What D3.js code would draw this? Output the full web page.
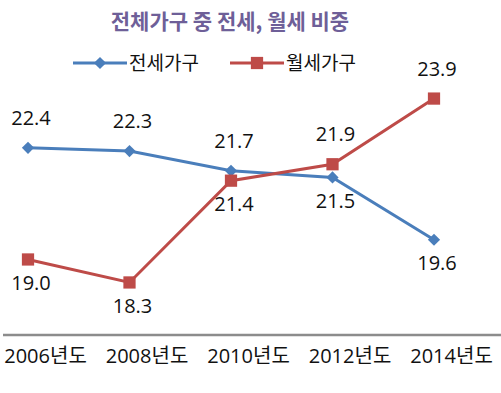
<!DOCTYPE html>
<html>
<head>
<meta charset="utf-8">
<script src="https://cdn.jsdelivr.net/npm/d3@7"></script>
<style>
  body { margin: 0; background: #fff; }
  text { font-family: "Open Sans", "Noto Sans CJK KR", sans-serif; }
</style>
</head>
<body>
<div id="chart"></div>
<script>
// data
const years = ["2006년도", "2008년도", "2010년도", "2012년도", "2014년도"];
const jeonse = [22.4, 22.3, 21.7, 21.5, 19.6];
const wolse = [19.0, 18.3, 21.4, 21.9, 23.9];
// label side for each point: -1 above, 1 below
const jeonseSide = [-1, -1, -1, 1, 1];
const wolseSide = [1, 1, 1, -1, -1];

const width = 501, height = 393;
const blue = "#4a7ebb", red = "#be4b48";

let svg = d3.select("#chart").append("svg")
    .attr("width", width)
    .attr("height", height);

let xScale = d3.scalePoint()
    .domain(years)
    .range([28, 434]);

let yScale = d3.scaleLinear()
    .domain([16.7, 24.77])
    .range([335, 70]);

// title
svg.append("text")
    .attr("x", 230)
    .attr("y", 29)
    .attr("text-anchor", "middle")
    .style("font-family", "'Noto Sans CJK KR', sans-serif")
    .style("font-size", "21px")
    .style("font-weight", "bold")
    .style("fill", "#6e5f98")
    .text("전체가구 중 전세, 월세 비중");

// x axis
let xAxis = d3.axisBottom(xScale).tickSize(0).tickPadding(0);
let gx = svg.append("g")
    .attr("transform", "translate(0,335)")
    .call(xAxis);
gx.select(".domain").remove();
gx.append("line")
    .attr("x1", 3).attr("x2", 501)
    .attr("y1", 0).attr("y2", 0)
    .attr("stroke", "#8c8c8c")
    .attr("stroke-width", 2.5);
gx.selectAll(".tick text")
    .attr("dx", 17)
    .attr("y", 28)
    .attr("dy", 0)
    .style("font-family", "'Open Sans', 'Noto Sans CJK KR', sans-serif")
    .style("font-size", "20px")
    .style("fill", "#111");

const series = [
  {name: "전세가구", values: jeonse, side: jeonseSide, color: blue, shape: d3.symbolDiamond2},
  {name: "월세가구", values: wolse, side: wolseSide, color: red, shape: d3.symbolSquare}
];

let line = d3.line()
    .x((d, i) => xScale(years[i]))
    .y(d => yScale(d));

series.forEach(s => {
  svg.append("path")
      .datum(s.values)
      .attr("fill", "none")
      .attr("stroke", s.color)
      .attr("stroke-width", 3)
      .attr("d", line);
});

series.forEach(s => {
  let size = s.shape === d3.symbolSquare ? 150 : 95;
  svg.append("g").selectAll("path")
      .data(s.values)
      .enter()
      .append("path")
      .attr("d", d3.symbol().type(s.shape).size(size))
      .attr("transform", (d, i) => "translate(" + xScale(years[i]) + "," + yScale(d) + ")")
      .attr("fill", s.color);
});

// data labels
series.forEach(s => {
  svg.append("g").selectAll("text")
      .data(s.values)
      .enter()
      .append("text")
      .attr("x", (d, i) => xScale(years[i]) + 3)
      .attr("y", (d, i) => yScale(d) + (s.side[i] < 0 ? -30 : 23))
      .attr("dy", "0.36em")
      .attr("text-anchor", "middle")
      .style("font-size", "20px")
      .style("fill", "#111")
      .text(d => d.toFixed(1));
});

// legend
let legend = svg.append("g").attr("transform", "translate(0,63)");
let legendX = [73, 230];
series.forEach((s, i) => {
  let g = legend.append("g").attr("transform", "translate(" + legendX[i] + ",0)");
  g.append("line")
      .attr("x1", 0).attr("x2", 54)
      .attr("stroke", s.color)
      .attr("stroke-width", 3);
  g.append("path")
      .attr("d", d3.symbol().type(s.shape).size(s.shape === d3.symbolSquare ? 150 : 95))
      .attr("transform", "translate(27,0)")
      .attr("fill", s.color);
  g.append("text")
      .attr("x", 56)
      .attr("dy", "0.36em")
      .style("font-family", "'Noto Sans CJK KR', sans-serif")
      .style("font-size", "19px")
      .style("fill", "#111")
      .text(s.name);
});
</script>
</body>
</html>
